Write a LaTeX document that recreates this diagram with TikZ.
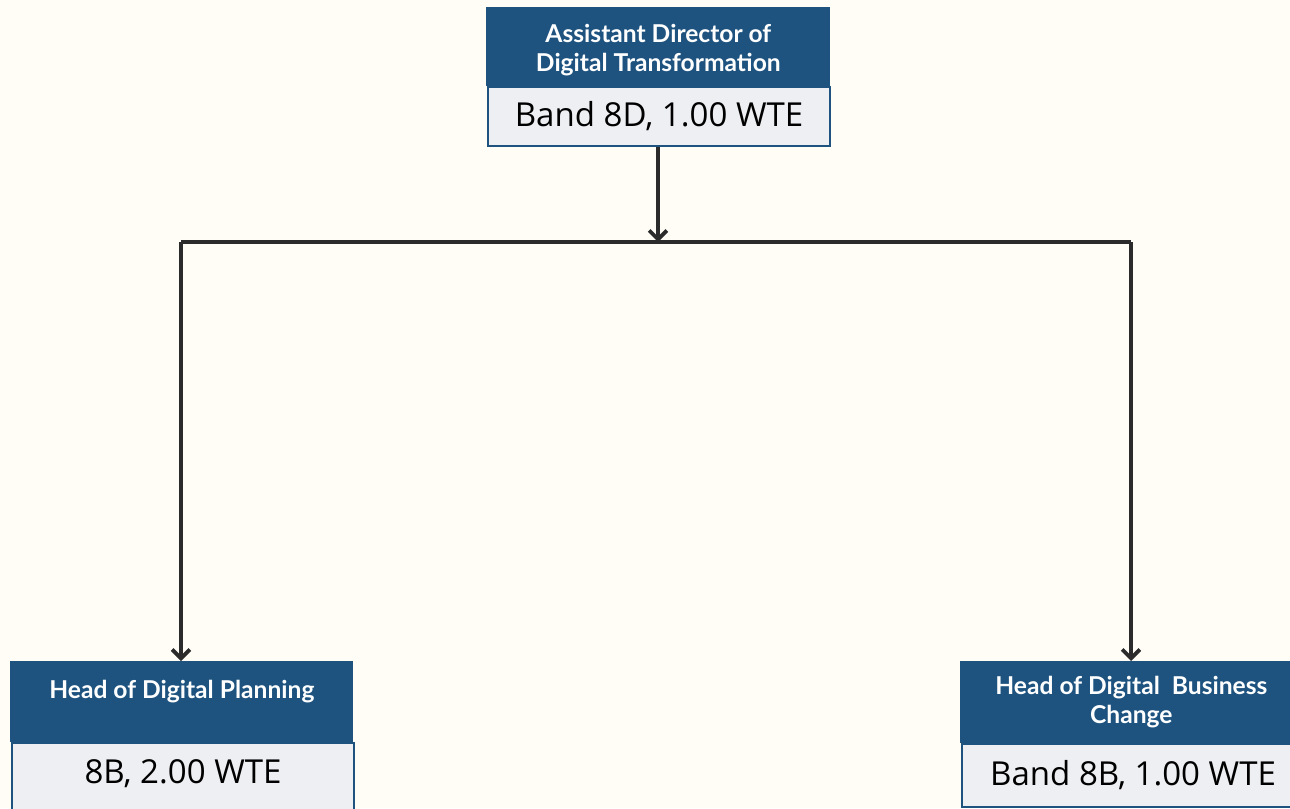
\documentclass[tikz,border=0pt]{standalone}
\usepackage{fontspec}
\usepackage{tikz}
\usetikzlibrary{arrows.meta}

\newfontfamily\headfont{Lato}
\newfontfamily\bandfont{Open Sans}

\definecolor{paper}{HTML}{FFFDF6}
\definecolor{navy}{HTML}{1E5380}
\definecolor{mist}{HTML}{EEEFF2}
\definecolor{ink}{HTML}{2B2B2B}

\begin{document}
\begin{tikzpicture}[x=0.02cm, y=-0.02cm,
    headbox/.style={rectangle, fill=navy, text=white, anchor=north west,
        inner sep=0pt, align=center, font=\headfont\bfseries\fontsize{14}{16.5}\selectfont},
    bandbox/.style={rectangle, fill=mist, draw=navy, line width=1.2pt, anchor=north west,
        inner sep=0pt, align=center, font=\bandfont\fontsize{18.8}{22}\selectfont},
    conn/.style={draw=ink, line width=2.2pt},
    arr/.style={conn, -{Straight Barb[length=5pt, width=10pt, line width=2.2pt]}}
    ]

    % Page
    \fill[paper] (0,0) rectangle (1290,808);
    \useasboundingbox (0,0) rectangle (1290,808);
    \clip (0,0) rectangle (1290,808);

    % Top box
    \node[headbox, minimum width=6.88cm, minimum height=1.58cm] (adhead) at (486,7)
        {\raisebox{-1.7pt}[\height][\depth]{\parbox{6.5cm}{\centering Assistant Director of\\Digital Transformation}}};
    \node[bandbox, minimum width=6.84cm, minimum height=1.18cm] (adband) at (487,86)
        {Band 8D, 1.00 WTE};

    % Left box
    \node[headbox, minimum width=6.86cm, minimum height=1.62cm] (plhead) at (10,661)
        {\raisebox{6pt}[\height][\depth]{Head of Digital Planning}};
    \node[bandbox, minimum width=6.84cm, minimum height=1.5cm] (plband) at (11,742)
        {\raisebox{3.7pt}[\height][\depth]{8B, 2.00 WTE}};

    % Right box
    \node[headbox, minimum width=6.84cm, minimum height=1.64cm] (bchead) at (960,661)
        {Head of Digital~~Business\\Change};
    \node[bandbox, minimum width=6.84cm, minimum height=1.26cm] (bcband) at (961,743)
        {Band 8B, 1.00 WTE};

    % Connectors
    \coordinate (hub) at (658,242);
    \coordinate (lturn) at (181,242);
    \coordinate (rturn) at (1131,242);
    \draw[arr] (adband.south -| hub) -- (hub);
    \draw[conn] (lturn) -- (rturn);
    \draw[arr] (lturn) -- (lturn |- plhead.north);
    \draw[arr] (rturn) -- (rturn |- bchead.north);
\end{tikzpicture}
\end{document}
